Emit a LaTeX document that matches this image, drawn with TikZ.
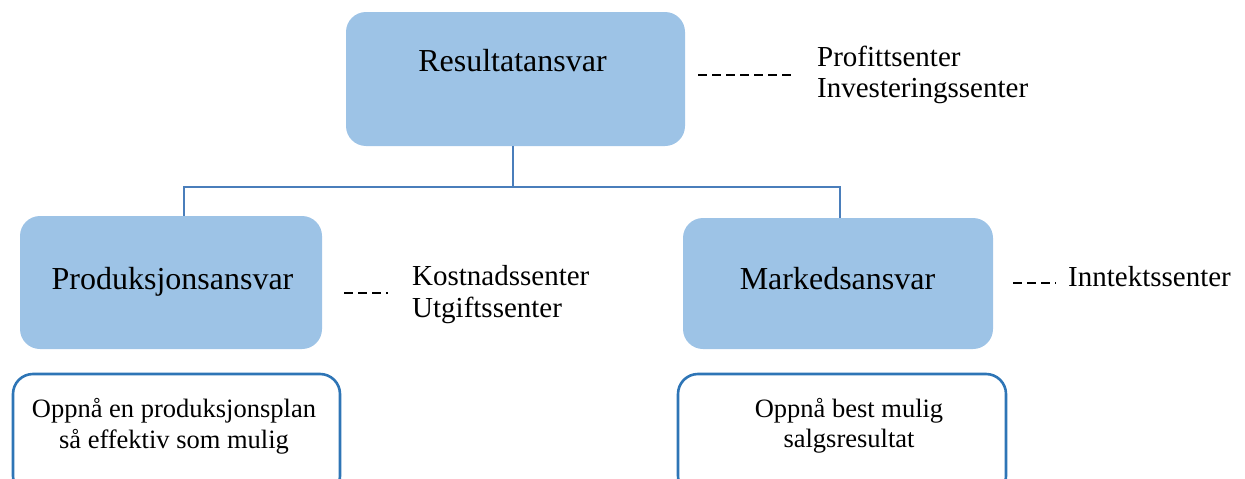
\documentclass[tikz,border=0pt]{standalone}
\usepackage{fontspec}
\setmainfont{Liberation Serif}
\definecolor{boxfill}{HTML}{9DC3E6}
\definecolor{linkblue}{HTML}{4A7EBB}
\definecolor{frameblue}{HTML}{2E75B6}
\tikzset{
  unitbox/.style={rectangle, rounded corners=20pt, fill=boxfill, draw=none, inner sep=0pt},
  goalbox/.style={rectangle, rounded corners=20pt, fill=white, draw=frameblue, line width=2.6pt, inner sep=0pt},
  mainlabel/.style={font=\fontsize{32}{38}\selectfont, inner sep=0pt, anchor=base},
  sidelabel/.style={font=\fontsize{29}{34}\selectfont, inner sep=0pt, anchor=base west},
  goallabel/.style={font=\fontsize{26.5}{31}\selectfont, inner sep=0pt, anchor=base},
  link/.style={draw=linkblue, line width=1.2pt},
  dashline/.style={draw=black, line width=1.3pt, dash pattern=on 9pt off 5pt}
}
\begin{document}
\begin{tikzpicture}[x=1pt, y=-1pt]
  \useasboundingbox (0,0) rectangle (1245,479);
  \clip (0,0) rectangle (1245,479);

  % responsibility boxes
  \node[unitbox, minimum width=339pt, minimum height=134pt] (res) at (515.5,79) {};
  \node[unitbox, minimum width=302pt, minimum height=133pt] (prod) at (171,282.5) {};
  \node[unitbox, minimum width=310pt, minimum height=131pt] (mark) at (838,283.5) {};

  \node[mainlabel] (restext) at (512.5,71) {Resultatansvar};
  \node[mainlabel] (prodtext) at (172.5,289) {Produksjonsansvar};
  \node[mainlabel] (marktext) at (837.5,289) {Markedsansvar};

  % tree connectors
  \coordinate (split) at (513,187);
  \draw[link] (res.south -| split) -- (split);
  \draw[link] (split) -| ([xshift=13pt]prod.north);
  \draw[link] (split) -| ([xshift=2pt]mark.north);

  % centre types
  \coordinate (d1a) at (698,75);  \coordinate (d1b) at (791,75);
  \coordinate (d2a) at (344,293); \coordinate (d2b) at (388,293);
  \coordinate (d3a) at (1013,283); \coordinate (d3b) at (1056,283);
  \draw[dashline] (d1a) -- (d1b);
  \draw[dashline] (d2a) -- (d2b);
  \draw[dashline] (d3a) -- (d3b);

  \node[sidelabel] (prof) at (817,66) {Profittsenter};
  \node[sidelabel] (inv) at (817,97) {Investeringssenter};
  \node[sidelabel] (kost) at (412,285) {Kostnadssenter};
  \node[sidelabel] (utg) at (412,317) {Utgiftssenter};
  \node[sidelabel] (inn) at (1068,286) {Inntektssenter};

  % goal boxes, running past the lower edge
  \node[goalbox, minimum width=327pt, minimum height=122pt] (goalprod) at (176.5,435) {};
  \node[goalbox, minimum width=328pt, minimum height=122pt] (goalmark) at (842,435) {};

  \node[goallabel] (gp1) at (174,417) {Oppnå en produksjonsplan};
  \node[goallabel] (gp2) at (174,448) {så effektiv som mulig};
  \node[goallabel] (gm1) at (849,417) {Oppnå best mulig};
  \node[goallabel] (gm2) at (849,447) {salgsresultat};
\end{tikzpicture}
\end{document}
